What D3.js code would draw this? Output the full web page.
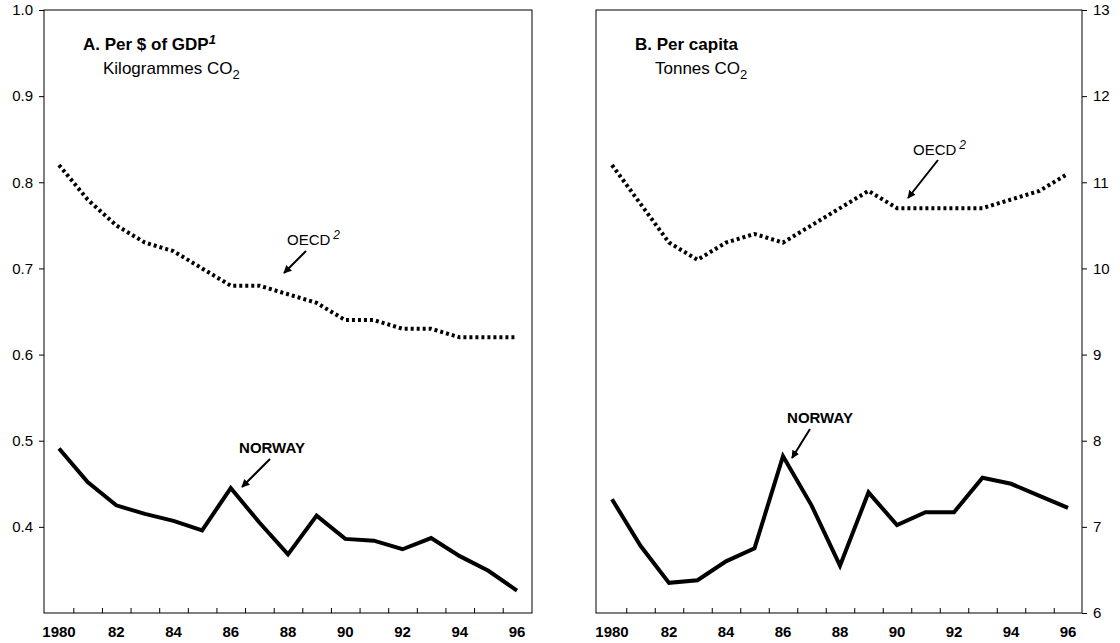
<!DOCTYPE html><html><head><meta charset="utf-8">
<script src="https://cdn.jsdelivr.net/npm/d3@7"></script>
<style>body{margin:0;background:#fff}text{font-family:"Liberation Sans",Arial,sans-serif}</style></head><body>
<svg id="c" width="1120" height="643"></svg>
<script>
const years=d3.range(1980,1997);
const xTickLabels=["1980","82","84","86","88","90","92","94","96"];
const oecdGdp=[0.82,0.78,0.75,0.73,0.72,0.70,0.68,0.68,0.67,0.66,0.64,0.64,0.63,0.63,0.62,0.62,0.62];
const norwayGdp=[0.491,0.452,0.425,0.415,0.407,0.396,0.445,0.405,0.368,0.413,0.386,0.384,0.374,0.387,0.366,0.349,0.326];
const oecdCap=[11.2,10.75,10.3,10.1,10.3,10.4,10.3,10.5,10.7,10.9,10.7,10.7,10.7,10.7,10.8,10.9,11.1];
const norwayCap=[7.32,6.78,6.35,6.38,6.6,6.75,7.82,7.25,6.55,7.4,7.02,7.17,7.17,7.57,7.5,7.36,7.22];
const leftTicks=[0.4,0.5,0.6,0.7,0.8,0.9,1.0];
const rightTicks=[6,7,8,9,10,11,12,13];
const svg=d3.select("#c");
const yTop=10,yBot=613;
function panel(x0,x1,xFirst,xLast,yDom,ticks,fmt,side,oecd,nor,title,sub,oecdLbl,norLbl){
  const x=d3.scaleLinear().domain([1980,1996]).range([xFirst,xLast]);
  const y=d3.scaleLinear().domain(yDom).range([yBot,yTop]);
  const g=svg.append("g");
  g.append("rect").attr("x",x0).attr("y",yTop).attr("width",x1-x0).attr("height",yBot-yTop).attr("fill","none").attr("stroke","#000").attr("stroke-width",1);
  const ax=side==="left"?d3.axisLeft(y).tickValues(ticks).tickFormat(fmt).tickSize(5).tickPadding(6):d3.axisRight(y).tickValues(ticks).tickFormat(fmt).tickSize(5).tickPadding(6);
  const ya=g.append("g").attr("transform",`translate(${side==="left"?x0:x1},0)`).call(ax);
  ya.select(".domain").remove();
  ya.attr("font-size",15).attr("font-family","Liberation Sans");
  const xt=d3.axisBottom(x).tickValues(d3.range(1980.5,1996,1)).tickSize(-5).tickFormat("");
  g.append("g").attr("transform",`translate(0,${yBot})`).call(xt).select(".domain").remove();
  g.selectAll(".xl").data(xTickLabels).join("text").attr("x",(d,i)=>x(1980+2*i)).attr("y",yBot+24).attr("text-anchor","middle").attr("font-size",15).attr("font-weight","bold").text(d=>d);
  const line=d3.line().x((d,i)=>x(years[i])).y(d=>y(d));
  g.append("path").attr("d",line(oecd)).attr("fill","none").attr("stroke","#000").attr("stroke-width",4).attr("stroke-dasharray","3,3");
  g.append("path").attr("d",line(nor)).attr("fill","none").attr("stroke","#000").attr("stroke-width",4).attr("stroke-linejoin","miter");
  const t=g.append("text").attr("x",x0+39).attr("y",yTop+40).attr("font-size",17).attr("font-weight","bold");
  t.text(title[0]); if(title[1]) t.append("tspan").attr("font-style","italic").attr("font-size",13).attr("dy",-6).text(title[1]);
  const s=g.append("text").attr("x",x0+59).attr("y",yTop+64).attr("font-size",17).text(sub);
  s.append("tspan").attr("font-size",13).attr("dy",5).text("2");
  const ol=g.append("text").attr("x",oecdLbl.tx).attr("y",oecdLbl.ty).attr("font-size",15).text("OECD");
  ol.append("tspan").attr("font-style","italic").attr("font-size",12).attr("dy",-6).attr("dx",3).text("2");
  g.append("line").attr("x1",oecdLbl.ax1).attr("y1",oecdLbl.ay1).attr("x2",oecdLbl.ax2).attr("y2",oecdLbl.ay2).attr("stroke","#000").attr("stroke-width",2).attr("marker-end","url(#ah)");
  g.append("text").attr("x",norLbl.tx).attr("y",norLbl.ty).attr("text-anchor","middle").attr("font-size",15).attr("font-weight","bold").text("NORWAY");
  g.append("line").attr("x1",norLbl.ax1).attr("y1",norLbl.ay1).attr("x2",norLbl.ax2).attr("y2",norLbl.ay2).attr("stroke","#000").attr("stroke-width",2).attr("marker-end","url(#ah)");
}
svg.append("defs").append("marker").attr("id","ah").attr("viewBox","0 0 10 10").attr("refX",9).attr("refY",5).attr("markerWidth",4).attr("markerHeight",4).attr("orient","auto").append("path").attr("d","M0,0L10,5L0,10z");
panel(44,532,59,517,[0.3,1.0],leftTicks,d3.format(".1f"),"left",oecdGdp,norwayGdp,["A.  Per $ of GDP","1"],"Kilogrammes CO",
 {tx:287,ty:245,ax1:306,ay1:251,ax2:284,ay2:273},{tx:272,ty:453,ax1:270,ay1:459,ax2:242,ay2:487});
panel(596,1082,612,1068,[6,13],rightTicks,d3.format("d"),"right",oecdCap,norwayCap,["B.  Per capita",""],"Tonnes CO",
 {tx:913,ty:155,ax1:938,ay1:160,ax2:908,ay2:198},{tx:820,ty:423,ax1:810,ay1:429,ax2:792,ay2:458});
</script></body></html>
